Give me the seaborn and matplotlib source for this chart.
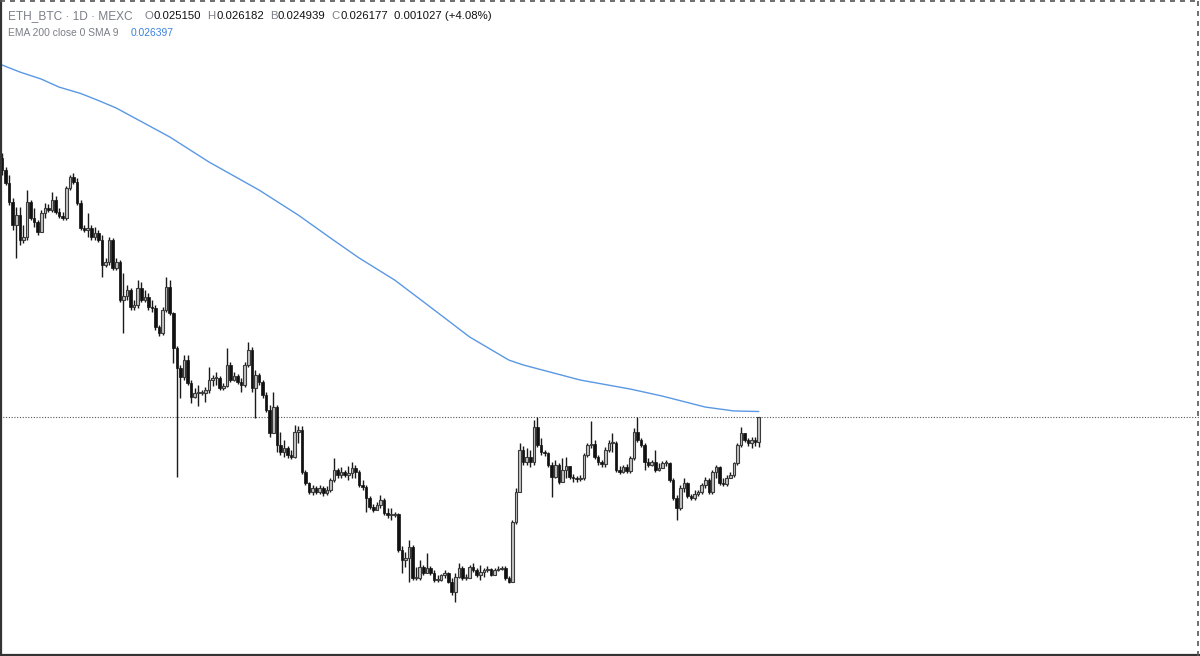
import numpy as np
import pandas as pd
import matplotlib
matplotlib.use("Agg")
import matplotlib.pyplot as plt
import seaborn as sns
from matplotlib.lines import Line2D

sns.set_theme(style="white")
plt.rcParams['font.family'] = ['Liberation Sans', 'DejaVu Sans']

# ETH_BTC daily candles, open of each bar = previous close
first_open = 0.03682
closes = [
    0.03632, 0.03579, 0.03501, 0.03406, 0.03447, 0.03345, 0.03357, 0.03501, 0.03435, 0.03419,
    0.03378, 0.03456, 0.03476, 0.03468, 0.03509, 0.03460, 0.03443, 0.03435, 0.03558, 0.03604,
    0.03583, 0.03497, 0.03394, 0.03386, 0.03394, 0.03357, 0.03373, 0.03345, 0.03242, 0.03254,
    0.03345, 0.03230, 0.03254, 0.03098, 0.03114, 0.03139, 0.03069, 0.03077, 0.03147, 0.03098,
    0.03110, 0.03069, 0.03065, 0.02987, 0.02962, 0.03057, 0.03151, 0.03045, 0.02901, 0.02819,
    0.02782, 0.02851, 0.02757, 0.02699, 0.02716, 0.02716, 0.02716, 0.02728, 0.02769, 0.02777,
    0.02777, 0.02736, 0.02745, 0.02831, 0.02769, 0.02786, 0.02761, 0.02749, 0.02831, 0.02893,
    0.02736, 0.02790, 0.02761, 0.02708, 0.02646, 0.02551, 0.02658, 0.02502, 0.02473, 0.02490,
    0.02461, 0.02453, 0.02555, 0.02564, 0.02391, 0.02346, 0.02309, 0.02325, 0.02309, 0.02325,
    0.02305, 0.02317, 0.02358, 0.02399, 0.02379, 0.02391, 0.02379, 0.02387, 0.02407, 0.02391,
    0.02338, 0.02329, 0.02284, 0.02247, 0.02235, 0.02255, 0.02276, 0.02223, 0.02214, 0.02214,
    0.02219, 0.02071, 0.02029, 0.02038, 0.02083, 0.01955, 0.01955, 0.02001, 0.01976, 0.01996,
    0.01976, 0.01947, 0.01947, 0.01968, 0.01976, 0.01939, 0.01898, 0.01960, 0.01996, 0.01955,
    0.01955, 0.02001, 0.01988, 0.01968, 0.01980, 0.01988, 0.01992, 0.01968, 0.01988, 0.01992,
    0.01996, 0.01955, 0.01939, 0.02186, 0.02309, 0.02481, 0.02432, 0.02453, 0.02432, 0.02576,
    0.02502, 0.02473, 0.02469, 0.02420, 0.02371, 0.02420, 0.02350, 0.02399, 0.02416, 0.02371,
    0.02366, 0.02362, 0.02366, 0.02461, 0.02502, 0.02506, 0.02453, 0.02432, 0.02424, 0.02481,
    0.02510, 0.02510, 0.02399, 0.02391, 0.02412, 0.02395, 0.02449, 0.02555, 0.02523, 0.02502,
    0.02432, 0.02420, 0.02432, 0.02399, 0.02407, 0.02428, 0.02428, 0.02358, 0.02284, 0.02243,
    0.02325, 0.02346, 0.02292, 0.02284, 0.02301, 0.02309, 0.02338, 0.02358, 0.02309, 0.02391,
    0.02412, 0.02346, 0.02342, 0.02366, 0.02379, 0.02428, 0.02502, 0.02551, 0.02523, 0.02510,
    0.02523, 0.025150, 0.026177,
]
highs = [
    0.03702, 0.03645, 0.03612, 0.03517, 0.03480, 0.03480, 0.03406, 0.03550, 0.03509, 0.03476,
    0.03427, 0.03468, 0.03497, 0.03493, 0.03542, 0.03525, 0.03476, 0.03460, 0.03567, 0.03612,
    0.03620, 0.03599, 0.03509, 0.03406, 0.03456, 0.03406, 0.03398, 0.03386, 0.03365, 0.03271,
    0.03357, 0.03353, 0.03271, 0.03262, 0.03209, 0.03160, 0.03147, 0.03098, 0.03180, 0.03172,
    0.03139, 0.03127, 0.03098, 0.03077, 0.02995, 0.03069, 0.03193, 0.03180, 0.03049, 0.02909,
    0.02831, 0.02872, 0.02872, 0.02769, 0.02736, 0.02749, 0.02728, 0.02740, 0.02823, 0.02790,
    0.02802, 0.02786, 0.02757, 0.02901, 0.02843, 0.02802, 0.02794, 0.02777, 0.02843, 0.02925,
    0.02905, 0.02810, 0.02798, 0.02769, 0.02720, 0.02666, 0.02720, 0.02666, 0.02555, 0.02523,
    0.02498, 0.02481, 0.02584, 0.02580, 0.02580, 0.02399, 0.02350, 0.02338, 0.02334, 0.02338,
    0.02334, 0.02334, 0.02366, 0.02449, 0.02407, 0.02412, 0.02399, 0.02416, 0.02432, 0.02420,
    0.02399, 0.02358, 0.02338, 0.02292, 0.02260, 0.02268, 0.02297, 0.02284, 0.02243, 0.02243,
    0.02227, 0.02223, 0.02087, 0.02062, 0.02112, 0.02091, 0.02001, 0.02029, 0.02009, 0.02058,
    0.02005, 0.01988, 0.01968, 0.01972, 0.01988, 0.01980, 0.01955, 0.01976, 0.02017, 0.02005,
    0.01972, 0.02009, 0.02017, 0.01996, 0.02009, 0.01996, 0.02005, 0.01996, 0.01996, 0.02005,
    0.02005, 0.02005, 0.01964, 0.02194, 0.02325, 0.02510, 0.02498, 0.02490, 0.02481, 0.02605,
    0.02617, 0.02531, 0.02481, 0.02473, 0.02432, 0.02440, 0.02428, 0.02449, 0.02453, 0.02416,
    0.02383, 0.02375, 0.02379, 0.02469, 0.02510, 0.02601, 0.02523, 0.02461, 0.02440, 0.02494,
    0.02523, 0.02551, 0.02518, 0.02416, 0.02420, 0.02424, 0.02457, 0.02572, 0.02617, 0.02531,
    0.02510, 0.02449, 0.02440, 0.02481, 0.02428, 0.02436, 0.02440, 0.02432, 0.02366, 0.02297,
    0.02338, 0.02366, 0.02350, 0.02301, 0.02317, 0.02317, 0.02346, 0.02371, 0.02366, 0.02399,
    0.02420, 0.02416, 0.02366, 0.02379, 0.02391, 0.02432, 0.02510, 0.02576, 0.02551, 0.02531,
    0.02535, 0.02535, 0.026182,
]
lows = [
    0.03612, 0.03571, 0.03488, 0.03386, 0.03271, 0.03324, 0.03332, 0.03345, 0.03427, 0.03398,
    0.03365, 0.03378, 0.03435, 0.03460, 0.03460, 0.03451, 0.03435, 0.03427, 0.03427, 0.03550,
    0.03575, 0.03488, 0.03386, 0.03378, 0.03357, 0.03345, 0.03345, 0.03336, 0.03193, 0.03234,
    0.03242, 0.03221, 0.03221, 0.03090, 0.02962, 0.03098, 0.03057, 0.03057, 0.03065, 0.03090,
    0.03090, 0.03057, 0.03049, 0.02975, 0.02950, 0.02954, 0.03049, 0.03036, 0.02839, 0.02371,
    0.02695, 0.02769, 0.02749, 0.02675, 0.02695, 0.02662, 0.02708, 0.02679, 0.02716, 0.02745,
    0.02749, 0.02728, 0.02728, 0.02740, 0.02761, 0.02765, 0.02753, 0.02720, 0.02740, 0.02823,
    0.02720, 0.02613, 0.02749, 0.02695, 0.02638, 0.02535, 0.02564, 0.02473, 0.02461, 0.02453,
    0.02449, 0.02444, 0.02449, 0.02510, 0.02383, 0.02338, 0.02301, 0.02297, 0.02301, 0.02301,
    0.02292, 0.02297, 0.02309, 0.02350, 0.02366, 0.02366, 0.02371, 0.02358, 0.02366, 0.02366,
    0.02329, 0.02317, 0.02227, 0.02239, 0.02227, 0.02235, 0.02243, 0.02214, 0.02202, 0.02194,
    0.02206, 0.02062, 0.01976, 0.02001, 0.01939, 0.01947, 0.01947, 0.01947, 0.01968, 0.01980,
    0.01968, 0.01939, 0.01939, 0.01943, 0.01955, 0.01935, 0.01886, 0.01857, 0.01955, 0.01947,
    0.01947, 0.01955, 0.01980, 0.01960, 0.01947, 0.01960, 0.01980, 0.01964, 0.01968, 0.01984,
    0.01988, 0.01947, 0.01935, 0.01939, 0.02177, 0.02309, 0.02420, 0.02420, 0.02412, 0.02420,
    0.02494, 0.02461, 0.02457, 0.02412, 0.02288, 0.02366, 0.02342, 0.02350, 0.02366, 0.02362,
    0.02350, 0.02350, 0.02354, 0.02358, 0.02453, 0.02490, 0.02444, 0.02420, 0.02412, 0.02412,
    0.02473, 0.02473, 0.02391, 0.02383, 0.02387, 0.02387, 0.02387, 0.02440, 0.02514, 0.02494,
    0.02399, 0.02412, 0.02416, 0.02391, 0.02395, 0.02416, 0.02416, 0.02350, 0.02276, 0.02194,
    0.02235, 0.02309, 0.02284, 0.02276, 0.02276, 0.02292, 0.02301, 0.02325, 0.02301, 0.02301,
    0.02366, 0.02338, 0.02334, 0.02334, 0.02366, 0.02371, 0.02420, 0.02494, 0.02514, 0.02498,
    0.02490, 0.02498, 0.024939,
]

# EMA 200 line, read at a few bars
ema_idx = [0, 5, 11, 16, 22, 27, 32, 47, 58, 72, 83, 92, 100, 110, 120,
           131, 142, 146, 162, 176, 185, 197, 205, 212]
ema_vals = [0.04064, 0.04035, 0.04006, 0.03973, 0.03947, 0.03918, 0.03887,
            0.03768, 0.03665, 0.03550, 0.03447, 0.03353, 0.03271, 0.03180,
            0.03069, 0.02946, 0.02851, 0.02831, 0.02769, 0.02732, 0.02703,
            0.02658, 0.02642, 0.026397]

last_close = 0.026177

df = pd.DataFrame({'c': closes, 'h': highs, 'l': lows})
df['o'] = [first_open] + closes[:-1]
df['h'] = df[['h', 'o', 'c']].max(axis=1)
df['l'] = df[['l', 'o', 'c']].min(axis=1)
df['i'] = np.arange(len(df))
up = df['c'] >= df['o']
body = (df['c'] - df['o']).abs().clip(lower=0.00003)
bottom = df[['o', 'c']].min(axis=1)

fig = plt.figure(figsize=(12, 6.56), dpi=100)
ax = fig.add_axes([0, 0, 1, 1])

ax.vlines(df['i'], df['l'], df['h'], color='#1a1a1a', lw=1, zorder=2)
ax.bar(df['i'][~up], body[~up], bottom=bottom[~up], width=0.72,
       color='#111111', edgecolor='#111111', lw=0.5, zorder=3)
ax.bar(df['i'][up], body[up], bottom=bottom[up], width=0.72,
       color='#c4c4c4', edgecolor='#3a3a3a', lw=0.8, zorder=3)

sns.lineplot(x=ema_idx, y=ema_vals, ax=ax, color='#5a98e4', lw=1.0, zorder=4)

ax.axhline(last_close, color='#555555', ls=(0, (1, 1.5)), lw=0.8, zorder=1)

ax.set_xlim(-0.56, 335.6)
ax.set_ylim(0.016348, 0.04331)
ax.set_xticks([])
ax.set_yticks([])
for s in ax.spines.values():
    s.set_visible(False)

# frame: solid left/bottom, dashed top/right
fig.add_artist(Line2D([0.001, 0.001], [0, 1], transform=fig.transFigure, color='#333333', lw=1.6))
fig.add_artist(Line2D([0, 1], [0.002, 0.002], transform=fig.transFigure, color='#333333', lw=1.6))
fig.add_artist(Line2D([0.9984, 0.9984], [0, 1], transform=fig.transFigure, color='#555555', lw=1.2, ls=(0, (3, 3))))
fig.add_artist(Line2D([0, 1], [0.9985, 0.9985], transform=fig.transFigure, color='#555555', lw=1.2, ls=(0, (3, 3))))

# header legend
renderer = fig.canvas.get_renderer()


def put_row(parts, x_px, y_px):
    x = x_px / fig.bbox.width
    y = 1 - y_px / fig.bbox.height
    for text, color, size, gap in parts:
        t = fig.text(x, y, text, color=color, fontsize=size, va='center', ha='left')
        w = t.get_window_extent(renderer).width
        x += (w + gap) / fig.bbox.width


gray = '#7b7e87'
put_row([
    ("ETH_BTC · 1D · MEXC", gray, 8.6, 12),
    ("O", gray, 8.2, 0.5), ("0.025150", '#111111', 8.2, 6),
    ("H", gray, 8.2, 0.5), ("0.026182", '#111111', 8.2, 6),
    ("B", gray, 8.2, 0.5), ("0.024939", '#111111', 8.2, 6),
    ("C", gray, 8.2, 0.5), ("0.026177", '#111111', 8.2, 6),
    ("0.001027 (+4.08%)", '#111111', 8.2, 0),
], 8, 16)
put_row([
    ("EMA 200 close 0 SMA 9", gray, 7.4, 12),
    ("0.026397", '#3b80de', 7.4, 0),
], 8, 33)

fig.savefig('out.png', dpi=100)
